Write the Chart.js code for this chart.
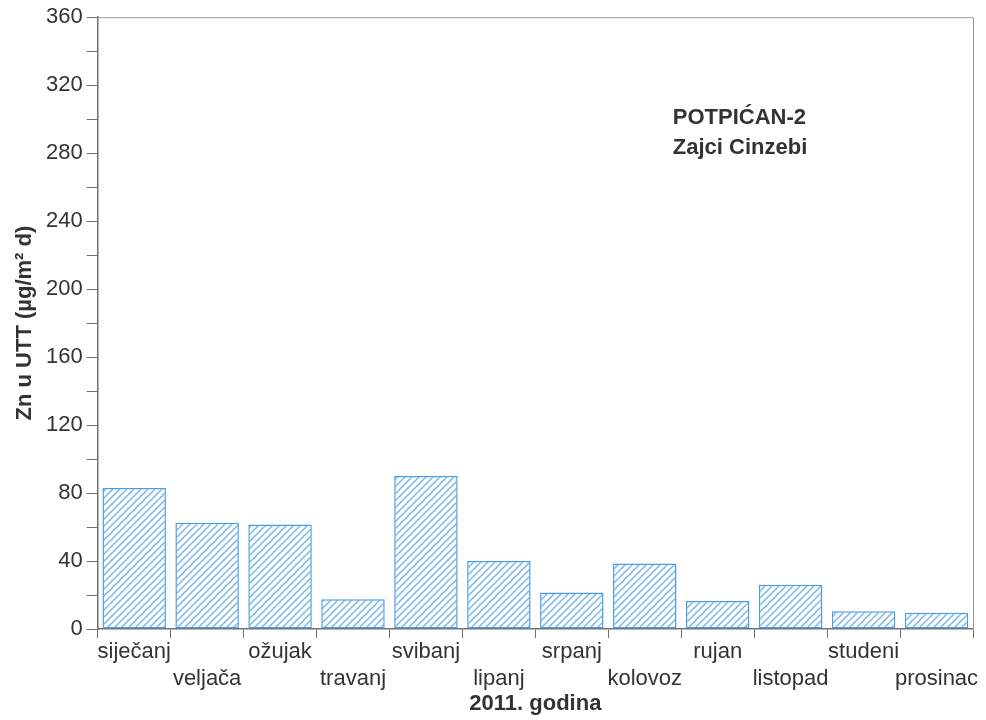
<!DOCTYPE html>
<html>
<head>
<meta charset="utf-8">
<script src="https://cdn.jsdelivr.net/npm/chart.js@4.4.1/dist/chart.umd.min.js"></script>
<style>
  html, body { margin: 0; padding: 0; background: #fff; }
  #wrap { width: 986px; height: 720px; }
</style>
</head>
<body>
<div id="wrap"><canvas id="myChart" width="986" height="720"></canvas></div>
<script>
const months = ['siječanj', 'veljača', 'ožujak', 'travanj', 'svibanj', 'lipanj',
                'srpanj', 'kolovoz', 'rujan', 'listopad', 'studeni', 'prosinac'];
const znValues = [83, 62.5, 61.5, 17.5, 90, 40, 21.5, 38.5, 16.5, 26, 10.5, 9.5];
const yTicks = [0, 40, 80, 120, 160, 200, 240, 280, 320, 360];
const noteLines = ['POTPIĆAN-2', 'Zajci Cinzebi'];

document.addEventListener("DOMContentLoaded", function () {
    const ctx = document.getElementById('myChart').getContext('2d');

    // diagonal hatch for the bars
    const tile = document.createElement('canvas');
    tile.width = 7;
    tile.height = 7;
    const t = tile.getContext('2d');
    t.fillStyle = '#ffffff';
    t.fillRect(0, 0, 7, 7);
    t.strokeStyle = '#72b4ec';
    t.lineWidth = 1.4;
    t.beginPath();
    t.moveTo(-1, 8); t.lineTo(8, -1);
    t.moveTo(-4, 4); t.lineTo(4, -4);
    t.moveTo(3, 11); t.lineTo(11, 3);
    t.stroke();
    const hatch = ctx.createPattern(tile, 'repeat');

    const textColor = '#333333';
    const axisColor = '#707070';
    const fontFamily = '"Liberation Sans", Arial, sans-serif';

    const frame = {
        id: 'frame',
        afterDraw(chart) {
            const a = chart.chartArea;
            const c = chart.ctx;
            c.save();
            c.strokeStyle = '#9a9a9a';
            c.lineWidth = 1;
            c.beginPath();
            c.moveTo(a.left, a.top + 0.5);
            c.lineTo(a.right + 0.5, a.top + 0.5);
            c.lineTo(a.right + 0.5, a.bottom);
            c.stroke();

            c.fillStyle = textColor;
            c.font = 'bold 22px ' + fontFamily;
            c.textAlign = 'left';
            c.textBaseline = 'middle';
            const x = a.left + (a.right - a.left) * 0.657;
            c.fillText(noteLines[0], x, a.top + (a.bottom - a.top) * 0.164);
            c.fillText(noteLines[1], x, a.top + (a.bottom - a.top) * 0.214);
            c.restore();
        }
    };

    const data = {
        labels: months,
        datasets: [{
            label: 'Zn',
            data: znValues,
            backgroundColor: hatch,
            borderColor: '#4c9ce2',
            borderWidth: 1.5,
            borderSkipped: false,
            categoryPercentage: 0.87,
            barPercentage: 1.0
        }]
    };

    const options = {
        responsive: false,
        animation: false,
        layout: { padding: { top: 17, right: 13, left: 14, bottom: 5 } },
        plugins: {
            legend: { display: false },
            tooltip: { enabled: false }
        },
        scales: {
            x: {
                grid: {
                    offset: true,
                    drawOnChartArea: false,
                    drawTicks: true,
                    tickLength: 9,
                    color: axisColor
                },
                border: { color: axisColor, width: 1.5 },
                ticks: {
                    color: textColor,
                    autoSkip: false,
                    maxRotation: 0,
                    padding: 0,
                    font: { family: fontFamily, size: 22, lineHeight: 1.25 },
                    callback: function (value, index) {
                        return index % 2 === 0 ? [months[index]] : [' ', months[index]];
                    }
                },
                title: {
                    display: true,
                    text: '2011. godina',
                    color: textColor,
                    padding: { top: 0, bottom: 0 },
                    font: { family: fontFamily, size: 22, weight: 'bold', lineHeight: 1.0 }
                }
            },
            y: {
                min: 0,
                max: 360,
                grid: {
                    drawOnChartArea: false,
                    drawTicks: true,
                    tickLength: 11,
                    color: axisColor
                },
                border: { color: axisColor, width: 1.5 },
                ticks: {
                    stepSize: 20,
                    color: textColor,
                    padding: 4,
                    font: { family: fontFamily, size: 22 },
                    callback: function (value) {
                        return yTicks.includes(value) ? value : '';
                    }
                },
                title: {
                    display: true,
                    text: 'Zn u UTT (µg/m² d)',
                    color: textColor,
                    padding: { top: 0, bottom: 6 },
                    font: { family: fontFamily, size: 22, weight: 'bold', lineHeight: 1.0 }
                }
            }
        }
    };

    new Chart(ctx, {
        type: 'bar',
        data: data,
        options: options,
        plugins: [frame]
    });
});
</script>
</body>
</html>
